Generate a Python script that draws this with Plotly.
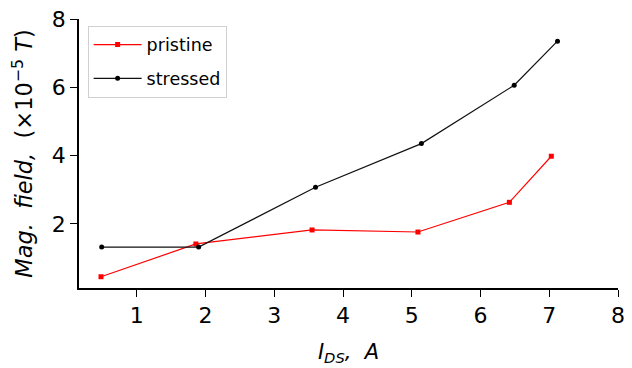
import plotly.graph_objects as go

# Data
pristine_x = [0.48, 1.86, 3.55, 5.09, 6.42, 7.03]
pristine_y = [0.45, 1.41, 1.82, 1.76, 2.63, 3.98]
stressed_x = [0.49, 1.90, 3.60, 5.14, 6.49, 7.12]
stressed_y = [1.32, 1.32, 3.07, 4.35, 6.06, 7.35]
x_ticks = [1, 2, 3, 4, 5, 6, 7, 8]
y_ticks = [2, 4, 6, 8]

FONT = "DejaVu Sans"
NB = "\u00a0"

fig = go.Figure()
fig.add_trace(go.Scatter(
    x=pristine_x, y=pristine_y, mode="lines+markers", name="pristine",
    legendgroup="a",
    line=dict(color="#ff0000", width=1.2),
    marker=dict(symbol="square", size=5, color="#ff0000"),
))
fig.add_trace(go.Scatter(
    x=stressed_x, y=stressed_y, mode="lines+markers", name="stressed",
    legendgroup="b",
    line=dict(color="#111111", width=1.2),
    marker=dict(symbol="circle", size=5, color="#000000"),
))

fig.update_layout(
    width=632, height=368,
    margin=dict(l=79, r=7, t=15, b=80),
    paper_bgcolor="white", plot_bgcolor="white",
    font=dict(family=FONT, color="black"),
    showlegend=True,
    legend=dict(
        x=0.016, y=0.975, xanchor="left", yanchor="top",
        font=dict(family=FONT, size=17.5, color="black"),
        bordercolor="#d0d0d0", borderwidth=1, bgcolor="rgba(255,255,255,0.8)",
        traceorder="grouped", tracegroupgap=8, itemwidth=48,
    ),
    xaxis=dict(
        range=[0.16, 8], tickvals=x_ticks, showgrid=False, zeroline=False,
        showline=True, linecolor="black", linewidth=1.5,
        ticks="outside", ticklen=7, tickwidth=1.2, tickcolor="black",
        tickfont=dict(family=FONT, size=22, color="black"),
        title=dict(
            text="<i>I</i><sub><i>DS</i></sub><i>," + NB + NB + "A</i>",
            font=dict(family=FONT, size=21, color="black"), standoff=17,
        ),
    ),
    yaxis=dict(
        range=[0.12, 8], tickvals=y_ticks, showgrid=False, zeroline=False,
        showline=True, linecolor="black", linewidth=1.5,
        ticks="outside", ticklen=7, tickwidth=1.2, tickcolor="black",
        tickfont=dict(family=FONT, size=22, color="black"),
        title=dict(
            text="<i>Mag." + NB + NB + "field,</i>" + NB + NB + "(×10<sup>−5</sup>" + NB + "<i>T</i>)",
            font=dict(family=FONT, size=22.5, color="black"), standoff=13,
        ),
    ),
)

fig.write_html("out.html")
